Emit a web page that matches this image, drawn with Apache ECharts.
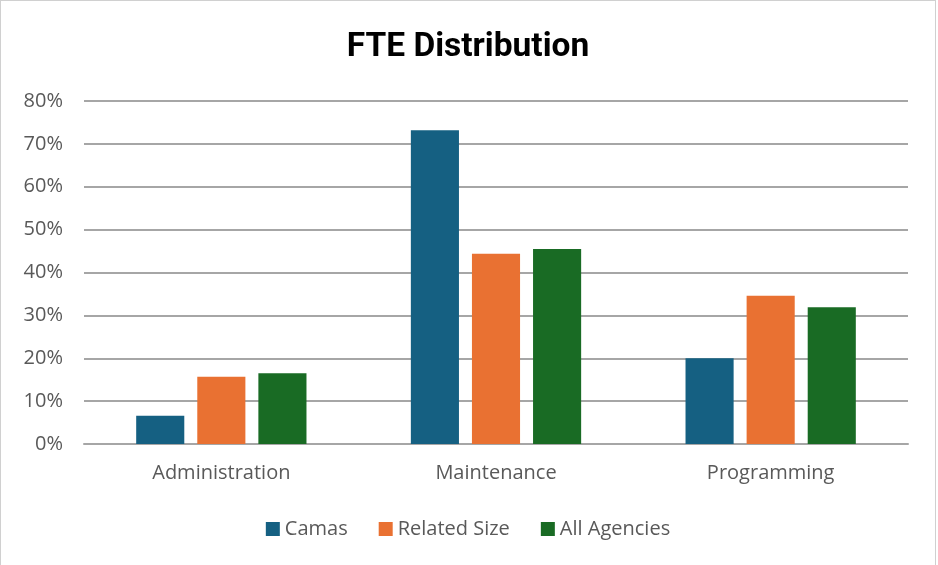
<!DOCTYPE html>
<html>
<head>
<meta charset="utf-8">
<script src="https://cdn.jsdelivr.net/npm/echarts@6/dist/echarts.min.js"></script>
<style>
  html, body { margin: 0; padding: 0; background: #fff; overflow: hidden; }
  #graph { position: absolute; left: 0; top: 0; width: 934px; height: 570px; border: 1px solid #d0d0d0; background: #fff; }
</style>
</head>
<body>
<div id="graph"></div>
<script>
var categories = ['Administration', 'Maintenance', 'Programming'];
var seriesNames = ['Camas', 'Related Size', 'All Agencies'];
var camas = [0.066, 0.732, 0.200];
var relatedSize = [0.157, 0.444, 0.346];
var allAgencies = [0.165, 0.455, 0.319];
var colors = ['#156082', '#E97132', '#196B24'];

var myChart = echarts.init(document.getElementById('graph'));

function makeBar(name, data, color) {
	return {
		name: name,
		type: 'bar',
		data: data,
		barGap: '27%',
		barCategoryGap: '38%',
		itemStyle: { color: color }
	};
}

var option = {
	animation: false,
	title: {
		text: 'FTE Distribution',
		left: 'center',
		top: 25,
		textStyle: { fontFamily: 'Roboto', fontWeight: 'bold', fontSize: 33.5, color: '#000' }
	},
	legend: {
		data: seriesNames,
		bottom: 27,
		left: 'center',
		itemWidth: 14,
		itemHeight: 14,
		itemGap: 31,
		icon: 'rect',
		textStyle: { fontFamily: 'Open Sans', fontSize: 20, color: '#595959' }
	},
	grid: { left: 83, right: 27, top: 100, bottom: 127, containLabel: false },
	xAxis: {
		type: 'category',
		data: categories,
		axisLine: { lineStyle: { color: '#a6a6a6', width: 2 } },
		axisTick: { show: false },
		axisLabel: { fontFamily: 'Open Sans', fontSize: 20, color: '#595959', margin: 19 }
	},
	yAxis: {
		type: 'value',
		min: 0,
		max: 0.8,
		interval: 0.1,
		axisLine: { show: false },
		axisTick: { show: false },
		splitLine: { lineStyle: { color: '#a6a6a6', width: 2 } },
		axisLabel: {
			fontFamily: 'Open Sans', fontSize: 20, color: '#595959', margin: 21,
			formatter: function (v) { return Math.round(v * 100) + '%'; }
		}
	},
	series: [
		makeBar(seriesNames[0], camas, colors[0]),
		makeBar(seriesNames[1], relatedSize, colors[1]),
		makeBar(seriesNames[2], allAgencies, colors[2])
	]
};

myChart.setOption(option);
</script>
</body>
</html>
